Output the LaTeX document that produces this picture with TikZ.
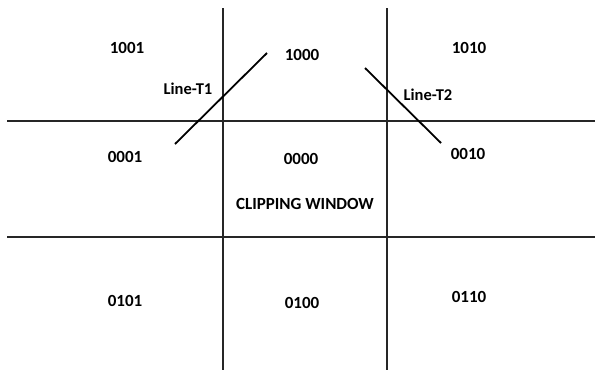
\documentclass[tikz,border=0pt]{standalone}
\usepackage{fontspec}
\setmainfont{Carlito}
\begin{document}
\begin{tikzpicture}[x=1pt,y=-1pt,
  grid/.style={line width=1.6pt,black!85},
  seg/.style={line width=1.8pt,black},
  code/.style={font=\bfseries\fontsize{17}{19}\selectfont,inner sep=0pt},
  tag/.style={font=\bfseries\fontsize{16.5}{19}\selectfont,inner sep=0pt}]
\useasboundingbox[fill=white] (0,0) rectangle (595,370);
% window boundaries
\coordinate (vlt) at (223,8);   \coordinate (vlb) at (223,370);
\coordinate (vrt) at (387,8);   \coordinate (vrb) at (387,370);
\coordinate (hul) at (7,121);   \coordinate (hur) at (595,121);
\coordinate (hll) at (7,237);   \coordinate (hlr) at (595,237);
\draw[grid] (vlt) -- (vlb);
\draw[grid] (vrt) -- (vrb);
\draw[grid] (hul) -- (hur);
\draw[grid] (hll) -- (hlr);
% test lines
\coordinate (t1a) at (175,144); \coordinate (t1b) at (267,53);
\coordinate (t2a) at (365,68);  \coordinate (t2b) at (441,143);
\draw[seg] (t1a) -- (t1b);
\draw[seg] (t2a) -- (t2b);
% region codes
\node[code] (r1001) at (127,48) {1001};
\node[code] (r1000) at (302,55) {1000};
\node[code] (r1010) at (469,48) {1010};
\node[code] (r0001) at (125,157) {0001};
\node[code] (r0000) at (301,159) {0000};
\node[code] (r0010) at (468,154) {0010};
\node[code] (r0101) at (125,301) {0101};
\node[code] (r0100) at (302,303) {0100};
\node[code] (r0110) at (469,297) {0110};
% labels
\node[tag] (lt1) at (188,89) {Line-T1};
\node[tag] (lt2) at (428,95) {Line-T2};
\node[code] (win) at (305,204) {CLIPPING WINDOW};
\end{tikzpicture}
\end{document}
